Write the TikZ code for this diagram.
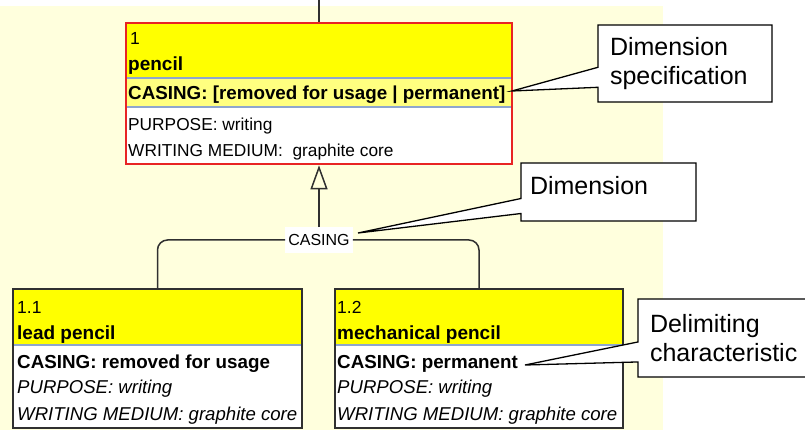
\documentclass[tikz,border=0pt]{standalone}
\usepackage{fontspec}
\setmainfont{Liberation Sans}
\usetikzlibrary{arrows.meta,shapes.callouts}

\definecolor{cream}{RGB}{255,255,221}
\definecolor{hdryellow}{RGB}{255,255,0}
\definecolor{dimyellow}{RGB}{255,255,128}
\definecolor{seprule}{RGB}{142,166,206}
\definecolor{selred}{RGB}{232,36,36}
\definecolor{inkgray}{RGB}{48,48,48}

\newcommand\ftnum{\fontsize{17.5pt}{20pt}\selectfont}
\newcommand\ftname{\fontsize{19pt}{22pt}\selectfont\bfseries}
\newcommand\ftdim{\fontsize{18.8pt}{22pt}\selectfont\bfseries}
\newcommand\ftreg{\fontsize{17.3pt}{20pt}\selectfont}
\newcommand\ftital{\fontsize{18.6pt}{20pt}\selectfont\itshape}
\newcommand\ftlab{\fontsize{16pt}{18pt}\selectfont}
\newcommand\ftcall{\fontsize{25pt}{28.4pt}\selectfont}

\begin{document}
\begin{tikzpicture}[x=1pt,y=-1pt,
  txt/.style={anchor=base west, inner sep=0pt},
  classbox/.style={draw=inkgray, line width=1.8pt, inner sep=0pt},
  sepline/.style={draw=seprule, line width=1.5pt},
  conn/.style={draw=inkgray, line width=1.5pt},
  note/.style={rectangle callout, draw=black, fill=white, line width=1.3pt,
               align=left, font=\ftcall, inner ysep=0pt},
]
\useasboundingbox (0,0) rectangle (805,430);
\clip (0,0) rectangle (805,430);

% diagram canvas
\fill[cream] (0,6) rectangle (663,430);

% --- concept 1: pencil ---
\fill[hdryellow] (126,23) rectangle (512,78);
\fill[dimyellow] (126,78) rectangle (512,107);
\fill[white] (126,107) rectangle (512,164);
\draw[sepline] (126,78) -- (512,78);
\draw[sepline] (126,107) -- (512,107);
\node[txt, font=\ftnum] (pnum) at (130,45) {1};
\node[txt, font=\ftname] (pname) at (128,70.5) {pencil};
\node[txt, font=\ftdim] (pdim) at (128,100) {CASING: [removed for usage | permanent]};
\node[txt, font=\ftreg] (ppur) at (128,131) {PURPOSE: writing};
\node[txt, font=\ftreg] (pmed) at (128,156.7) {WRITING MEDIUM:\ \ graphite core};
\node[classbox, draw=selred, line width=2.6pt, minimum width=386pt, minimum height=141pt]
  (pencil) at (319,93.5) {};

% --- concept 1.1: lead pencil ---
\fill[hdryellow] (13,289) rectangle (302,345);
\fill[white] (13,345) rectangle (302,428);
\draw[sepline] (13,345) -- (302,345);
\node[txt, font=\ftnum] (lnum) at (17,313) {1.1};
\node[txt, font=\ftname] (lname) at (17,339) {lead pencil};
\node[txt, font=\ftdim] (ldim) at (17,368) {CASING: removed for usage};
\node[txt, font=\ftital] (lpur) at (17,393) {PURPOSE: writing};
\node[txt, font=\ftital] (lmed) at (17,420) {WRITING MEDIUM: graphite core};
\node[classbox, minimum width=289pt, minimum height=139pt] (lead) at (157.5,358.5) {};

% --- concept 1.2: mechanical pencil ---
\fill[hdryellow] (335,289) rectangle (623,345);
\fill[white] (335,345) rectangle (623,428);
\draw[sepline] (335,345) -- (623,345);
\node[txt, font=\ftnum] (mnum) at (337,313) {1.2};
\node[txt, font=\ftname] (mname) at (337,339) {mechanical pencil};
\node[txt, font=\ftdim] (mdim) at (337,368) {CASING: permanent};
\node[txt, font=\ftital] (mpur) at (337,393) {PURPOSE: writing};
\node[txt, font=\ftital] (mmed) at (337,420) {WRITING MEDIUM: graphite core};
\node[classbox, minimum width=288pt, minimum height=139pt] (mech) at (479,358.5) {};

% --- generalisation with its dimension label ---
\coordinate (topend) at (319,0);
\draw[conn] (pencil.north) -- (topend);
\node[fill=white, font=\ftlab, inner xsep=3pt, inner ysep=7pt] (casing) at (319,240) {CASING};
\draw[conn, -{Triangle[open, length=24pt, width=17pt]}]
  (casing.north) -- (casing.north |- pencil.south);
\draw[conn, rounded corners=10pt] (casing.west) -| (lead.north);
\draw[conn, rounded corners=10pt] (casing.east) -| (mech.north);

% --- explanatory callouts ---
\coordinate (specTip) at (512,91);
\coordinate (dimTip) at (358,233);
\coordinate (delimTip) at (525,365);

\node[note, callout absolute pointer={(specTip)}, callout pointer width=20pt,
      inner xsep=12pt, text width=150pt, minimum height=77pt]
  (dimspec) at (685,63.5) {Dimension\\specification};
\node[note, callout absolute pointer={(dimTip)}, callout pointer width=15pt,
      inner xsep=9pt, text width=157pt, minimum height=58pt,
      text height=18pt, text depth=12pt]
  (dimnote) at (608.5,192) {Dimension};
\node[note, callout absolute pointer={(delimTip)}, callout pointer width=20pt,
      inner xsep=12pt, text width=218pt, minimum height=78pt]
  (delimnote) at (759,338) {Delimiting\\characteristic};
\end{tikzpicture}
\end{document}
